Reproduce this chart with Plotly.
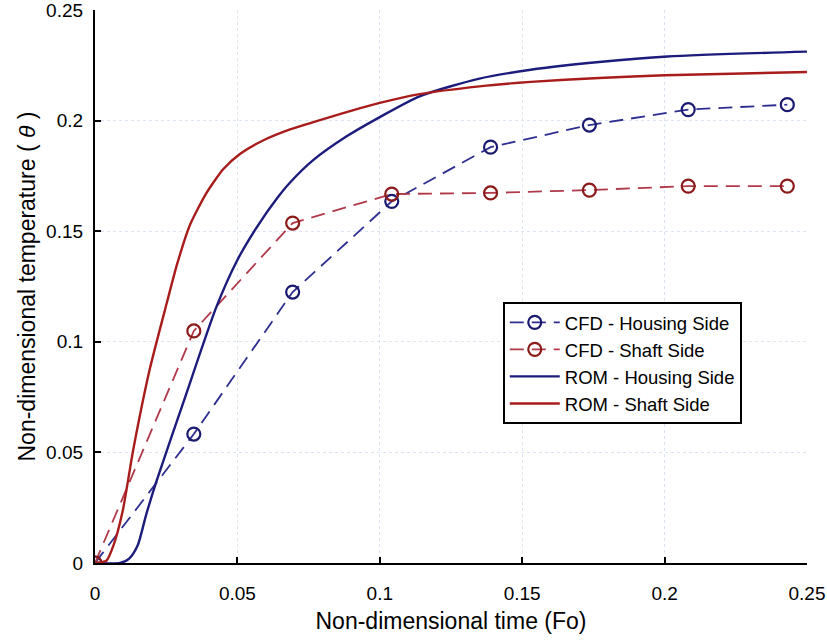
import plotly.graph_objects as go

# CFD data (markers)
cfd_x = [0.0, 0.0347, 0.0694, 0.1042, 0.1389, 0.1736, 0.2083, 0.2431]
cfd_housing = [0.0, 0.0583, 0.1225, 0.1635, 0.1880, 0.1980, 0.2050, 0.2072]
cfd_shaft = [0.0, 0.1049, 0.1537, 0.1668, 0.1673, 0.1686, 0.1704, 0.1704]

# ROM curves
rom_h_x = [0.0, 0.0088, 0.0120, 0.0150, 0.0180, 0.0216, 0.031, 0.0427, 0.050, 0.0569, 0.064,
           0.0685, 0.0765, 0.0885, 0.100, 0.114, 0.135, 0.153, 0.177, 0.201, 0.25]
rom_h_y = [0.0, 0.0, 0.002, 0.008, 0.022, 0.037, 0.0725, 0.116, 0.137, 0.152, 0.165,
           0.172, 0.182, 0.193, 0.2016, 0.2110, 0.2190, 0.2230, 0.2265, 0.2290, 0.2312]

rom_s_x = [0.0, 0.004, 0.0065, 0.0098, 0.0134, 0.0193, 0.0253, 0.0288, 0.0334, 0.039,
           0.045, 0.051, 0.059, 0.0685, 0.0825, 0.100, 0.114, 0.135, 0.153, 0.177, 0.20, 0.25]
rom_s_y = [0.0, 0.001, 0.008, 0.024, 0.051, 0.088, 0.118, 0.135, 0.153, 0.167,
           0.178, 0.185, 0.191, 0.196, 0.2016, 0.208, 0.2120, 0.2155, 0.2175, 0.2193, 0.2205, 0.222]

x_ticks = [0, 0.05, 0.1, 0.15, 0.2, 0.25]
x_tick_labels = ["0", "0.05", "0.1", "0.15", "0.2", "0.25"]
y_ticks = [0, 0.05, 0.1, 0.15, 0.2, 0.25]
y_tick_labels = ["0", "0.05", "0.1", "0.15", "0.2", "0.25"]

FONT = "Liberation Sans, Arial, sans-serif"

fig = go.Figure()
fig.add_trace(go.Scatter(
    x=cfd_x, y=cfd_housing, mode="lines+markers", name="CFD - Housing Side",
    line=dict(color="#2e2e90", width=1.8, dash="14px,8px"),
    marker=dict(symbol="circle-open", size=13, color="#1a1a70", line=dict(width=2.2, color="#1a1a70")),
))
fig.add_trace(go.Scatter(
    x=cfd_x, y=cfd_shaft, mode="lines+markers", name="CFD - Shaft Side",
    line=dict(color="#b03a4a", width=1.8, dash="14px,8px"),
    marker=dict(symbol="circle-open", size=13, color="#8b1a1a", line=dict(width=2.2, color="#8b1a1a")),
))
fig.add_trace(go.Scatter(
    x=rom_h_x, y=rom_h_y, mode="lines", name="ROM - Housing Side",
    line=dict(color="#1c1c7c", width=2.4, shape="spline", smoothing=0.7),
))
fig.add_trace(go.Scatter(
    x=rom_s_x, y=rom_s_y, mode="lines", name="ROM - Shaft Side",
    line=dict(color="#a81c1c", width=2.4, shape="spline", smoothing=0.6),
))

axis_font = dict(family=FONT, size=19, color="black")

fig.update_layout(
    width=827, height=643,
    margin=dict(l=95, r=20, t=10, b=80, autoexpand=False),
    paper_bgcolor="white", plot_bgcolor="white",
    font=dict(family=FONT, color="black"),
    showlegend=True,
    legend=dict(
        x=0.573, y=0.472, xanchor="left", yanchor="top",
        bgcolor="white", bordercolor="black", borderwidth=1.8,
        font=dict(family=FONT, size=18.5, color="black"),
        tracegroupgap=0, itemwidth=50,
    ),
    xaxis=dict(
        range=[0, 0.25001], tickvals=x_ticks, ticktext=x_tick_labels,
        showline=True, linecolor="black", linewidth=2.2, mirror=False,
        ticks="inside", ticklen=6, tickwidth=2, tickcolor="black",
        showgrid=True, gridcolor="#dbe4f2", griddash="dot", gridwidth=1,
        zeroline=False, tickfont=axis_font, automargin=False,
        ticklabelstandoff=12, ticklabeloverflow="allow",
        title=dict(text="Non-dimensional time (Fo)", font=dict(size=23, family=FONT), standoff=10),
    ),
    yaxis=dict(
        range=[0, 0.25001], tickvals=y_ticks, ticktext=y_tick_labels,
        showline=True, linecolor="black", linewidth=2.2, mirror=False,
        ticks="inside", ticklen=6, tickwidth=2, tickcolor="black",
        showgrid=True, gridcolor="#dbe4f2", griddash="dot", gridwidth=1,
        zeroline=False, tickfont=axis_font, automargin=False,
        ticklabelstandoff=6, ticklabeloverflow="allow",
        title=dict(text="Non-dimensional temperature ( <i>θ</i> )", font=dict(size=23, family=FONT), standoff=4),
    ),
)

fig.write_html("out.html")
